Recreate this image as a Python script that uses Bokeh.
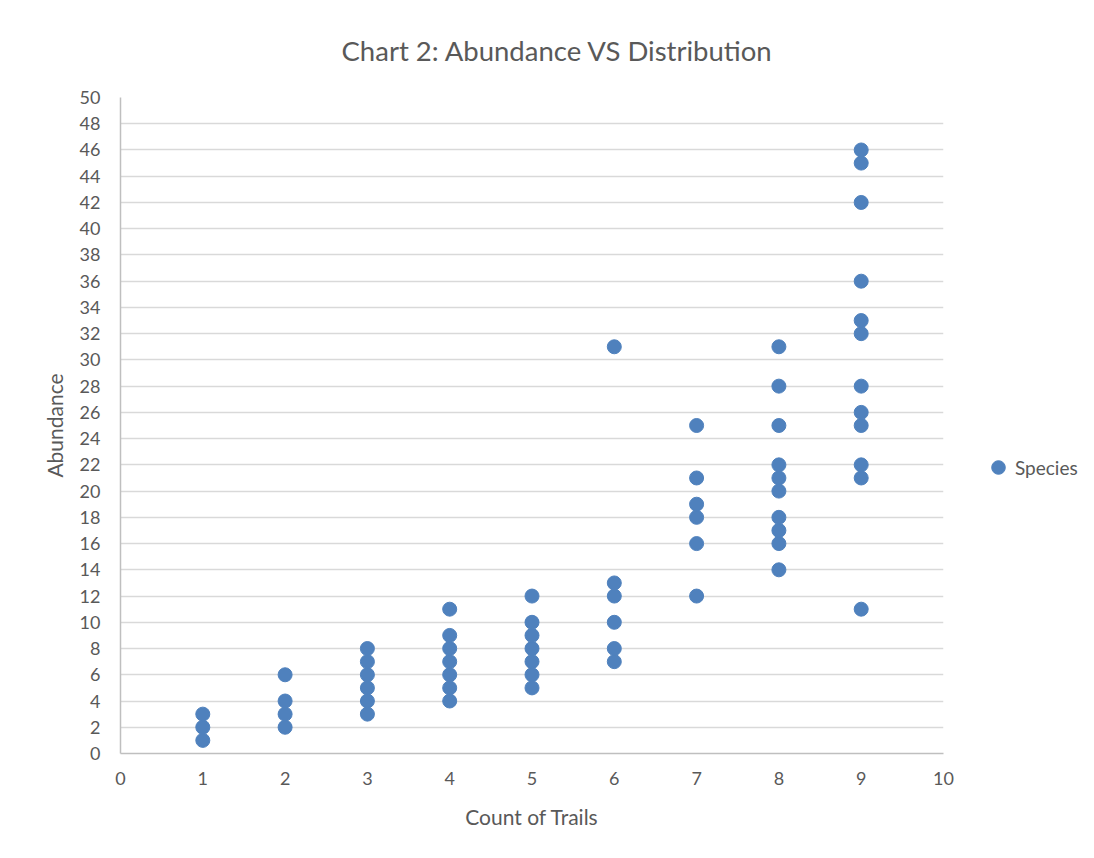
from bokeh.plotting import figure
from bokeh.models import Range1d, FixedTicker, Legend, LegendItem, ColumnDataSource
from bokeh.embed import file_html
from bokeh.resources import INLINE

# Data: Count of Trails (x) vs Abundance (y)
trails = [1, 1, 1,
          2, 2, 2, 2,
          3, 3, 3, 3, 3, 3,
          4, 4, 4, 4, 4, 4, 4,
          5, 5, 5, 5, 5, 5, 5,
          6, 6, 6, 6, 6, 6,
          7, 7, 7, 7, 7, 7,
          8, 8, 8, 8, 8, 8, 8, 8, 8, 8,
          9, 9, 9, 9, 9, 9, 9, 9, 9, 9, 9, 9]
abundance = [1, 2, 3,
             2, 3, 4, 6,
             3, 4, 5, 6, 7, 8,
             4, 5, 6, 7, 8, 9, 11,
             5, 6, 7, 8, 9, 10, 12,
             7, 8, 10, 12, 13, 31,
             12, 16, 18, 19, 21, 25,
             14, 16, 17, 18, 20, 21, 22, 25, 28, 31,
             11, 21, 22, 25, 26, 28, 32, 33, 36, 42, 45, 46]
x_ticks = list(range(0, 11))
y_ticks = list(range(0, 51, 2))

FONT = "Lato"
GRAY = "#595959"

src = ColumnDataSource(dict(x=trails, y=abundance))

p = figure(frame_width=823, frame_height=656, output_backend="svg", toolbar_location=None,
           x_range=Range1d(0, 10), y_range=Range1d(0, 50),
           min_border_left=120, min_border_right=10, min_border_top=97, min_border_bottom=89)

r = p.scatter("x", "y", source=src, size=14, color="#4F81BD", line_color="#4F81BD")

p.title.text = "Chart 2: Abundance VS Distribution"
p.title.align = "left"
p.title.text_font = FONT
p.title.text_font_style = "normal"
p.title.text_font_size = "27.5px"
p.title.text_color = GRAY
p.title.offset = 221
p.title.standoff = 62

for ax in (p.xaxis[0], p.yaxis[0]):
    ax.major_tick_line_color = None
    ax.minor_tick_line_color = None
    ax.axis_line_color = "#BFBFBF"
    ax.axis_line_width = 1.5
    ax.major_label_text_font = FONT
    ax.major_label_text_font_size = "18px"
    ax.major_label_text_color = GRAY
    ax.axis_label_text_font = FONT
    ax.axis_label_text_font_size = "21px"
    ax.axis_label_text_font_style = "normal"
    ax.axis_label_text_color = GRAY

p.xaxis.ticker = FixedTicker(ticks=x_ticks)
p.yaxis.ticker = FixedTicker(ticks=y_ticks)
p.xaxis.axis_label = "Count of Trails"
p.yaxis.axis_label = "Abundance"
p.xaxis.major_label_standoff = 12
p.yaxis.major_label_standoff = 14
p.xaxis.axis_label_standoff = 16
p.yaxis.axis_label_standoff = 10

p.xgrid.grid_line_color = None
p.ygrid.grid_line_color = "#D9D9D9"
p.ygrid.grid_line_width = 1.5
p.outline_line_color = None

legend = Legend(items=[LegendItem(label="Species", renderers=[r])],
                label_text_font=FONT, label_text_font_size="19px", label_text_color=GRAY,
                border_line_color=None, background_fill_alpha=0,
                glyph_width=34, glyph_height=34, label_standoff=-11,
                padding=0, margin=0, location=(38, 269))
p.add_layout(legend, "right")

open("out.html", "w").write(file_html(p, INLINE))
